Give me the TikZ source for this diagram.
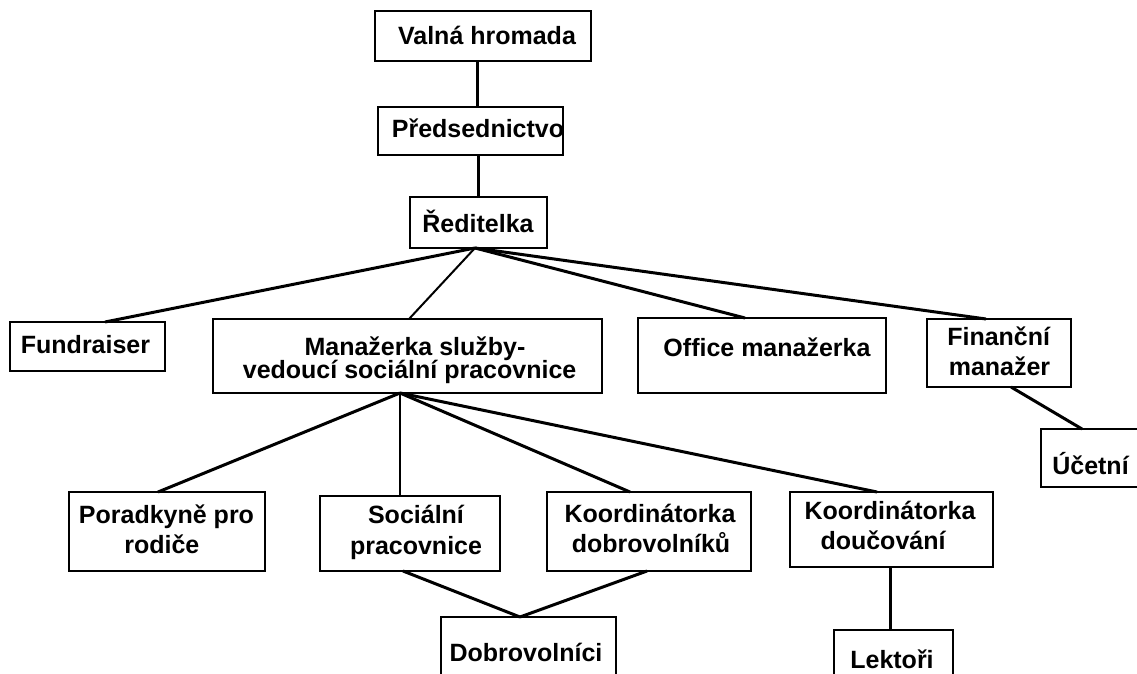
\documentclass[tikz,border=0pt]{standalone}
\usepackage{fontspec}
\setmainfont{Liberation Sans}
\begin{document}
\begin{tikzpicture}[x=1pt,y=-1pt]
\tikzset{
  box/.style={draw, rectangle, line width=1.8pt, inner sep=0pt, outer sep=0pt},
  lbl/.style={anchor=base, inner sep=0pt, outer sep=0pt, font=\fontsize{25}{30}\selectfont\bfseries},
  link/.style={line width=3pt},
  thinlink/.style={line width=2pt}
}
\useasboundingbox (0,0) rectangle (1137,674);
\clip (0,0) rectangle (1137,674);
% boxes
\node[box, minimum width=216, minimum height=50] (valna) at (483,36) {};
\node[box, minimum width=185, minimum height=48] (preds) at (470.5,131) {};
\node[box, minimum width=137, minimum height=51] (redit) at (478.5,222.5) {};
\node[box, minimum width=155, minimum height=49] (fund) at (87.5,346.5) {};
\node[box, minimum width=389, minimum height=74] (manaz) at (407.5,356) {};
\node[box, minimum width=248, minimum height=75] (office) at (762,355.5) {};
\node[box, minimum width=144, minimum height=68] (financ) at (999,353) {};
\node[box, minimum width=109, minimum height=58] (ucetni) at (1095.5,458) {};
\node[box, minimum width=196, minimum height=79] (porad) at (167,531.5) {};
\node[box, minimum width=180, minimum height=75] (soc) at (410,533.5) {};
\node[box, minimum width=204, minimum height=79] (kdob) at (649,531.5) {};
\node[box, minimum width=203, minimum height=75] (kdou) at (891.5,529.5) {};
\node[box, minimum width=175, minimum height=83] (dobro) at (528.5,658.5) {};
\node[box, minimum width=119, minimum height=70] (lekt) at (893.5,665) {};
% texts
\node[lbl] (valna-t) at (487,45) {Valná hromada};
\node[lbl] (preds-t) at (478,137) {Předsednictvo};
\node[lbl] (redit-t) at (478,232) {Ředitelka};
\node[lbl] (fund-t) at (85.5,353) {Fundraiser};
\node[lbl] (manaz-t1) at (415,355) {Manažerka služby-};
\node[lbl] (manaz-t2) at (409.6,378) {vedoucí sociální pracovnice};
\node[lbl] (office-t) at (767,356) {Office manažerka};
\node[lbl] (financ-t1) at (998.7,345) {Finanční};
\node[lbl] (financ-t2) at (999.5,375.7) {manažer};
\node[lbl] (ucetni-t) at (1090.5,474) {Účetní};
\node[lbl] (porad-t1) at (166.5,523) {Poradkyně pro};
\node[lbl] (porad-t2) at (161.8,553) {rodiče};
\node[lbl] (soc-t1) at (416,523) {Sociální};
\node[lbl] (soc-t2) at (416,554) {pracovnice};
\node[lbl] (kdob-t1) at (650,522) {Koordinátorka};
\node[lbl] (kdob-t2) at (651,552) {dobrovolníků};
\node[lbl] (kdou-t1) at (890,519) {Koordinátorka};
\node[lbl] (kdou-t2) at (883,549) {doučování};
\node[lbl] (dobro-t) at (526,661) {Dobrovolníci};
\node[lbl] (lekt-t) at (892,668) {Lektoři};
% connectors
\draw[link] ([xshift=-6]valna.south) -- ([xshift=6.5]preds.north);
\draw[link] ([xshift=7.5]preds.south) -- ([xshift=-0.5]redit.north);
\draw[link] ([xshift=-3.5]redit.south) -- ([xshift=17.5]fund.north);
\draw[thinlink] ([xshift=-3.5]redit.south) -- ([xshift=1.5]manaz.north);
\draw[link] ([xshift=-3.5]redit.south) -- ([xshift=-17]office.north);
\draw[link] ([xshift=-3.5]redit.south) -- ([xshift=-13]financ.north);
\draw[link] ([xshift=12]financ.south) -- ([xshift=-13.5]ucetni.north);
\draw[link] ([xshift=-7.5]manaz.south) -- ([xshift=-9]porad.north);
\draw[thinlink] ([xshift=-7.5]manaz.south) -- ([xshift=-10]soc.north);
\draw[link] ([xshift=-7.5]manaz.south) -- ([xshift=-19]kdob.north);
\draw[link] ([xshift=-7.5]manaz.south) -- ([xshift=-14.5]kdou.north);
\draw[link] ([xshift=-7]soc.south) -- ([xshift=-8.5]dobro.north);
\draw[link] ([xshift=-2]kdob.south) -- ([xshift=-8.5]dobro.north);
\draw[link] ([xshift=-1.5]kdou.south) -- ([xshift=-3.5]lekt.north);
\end{tikzpicture}
\end{document}
